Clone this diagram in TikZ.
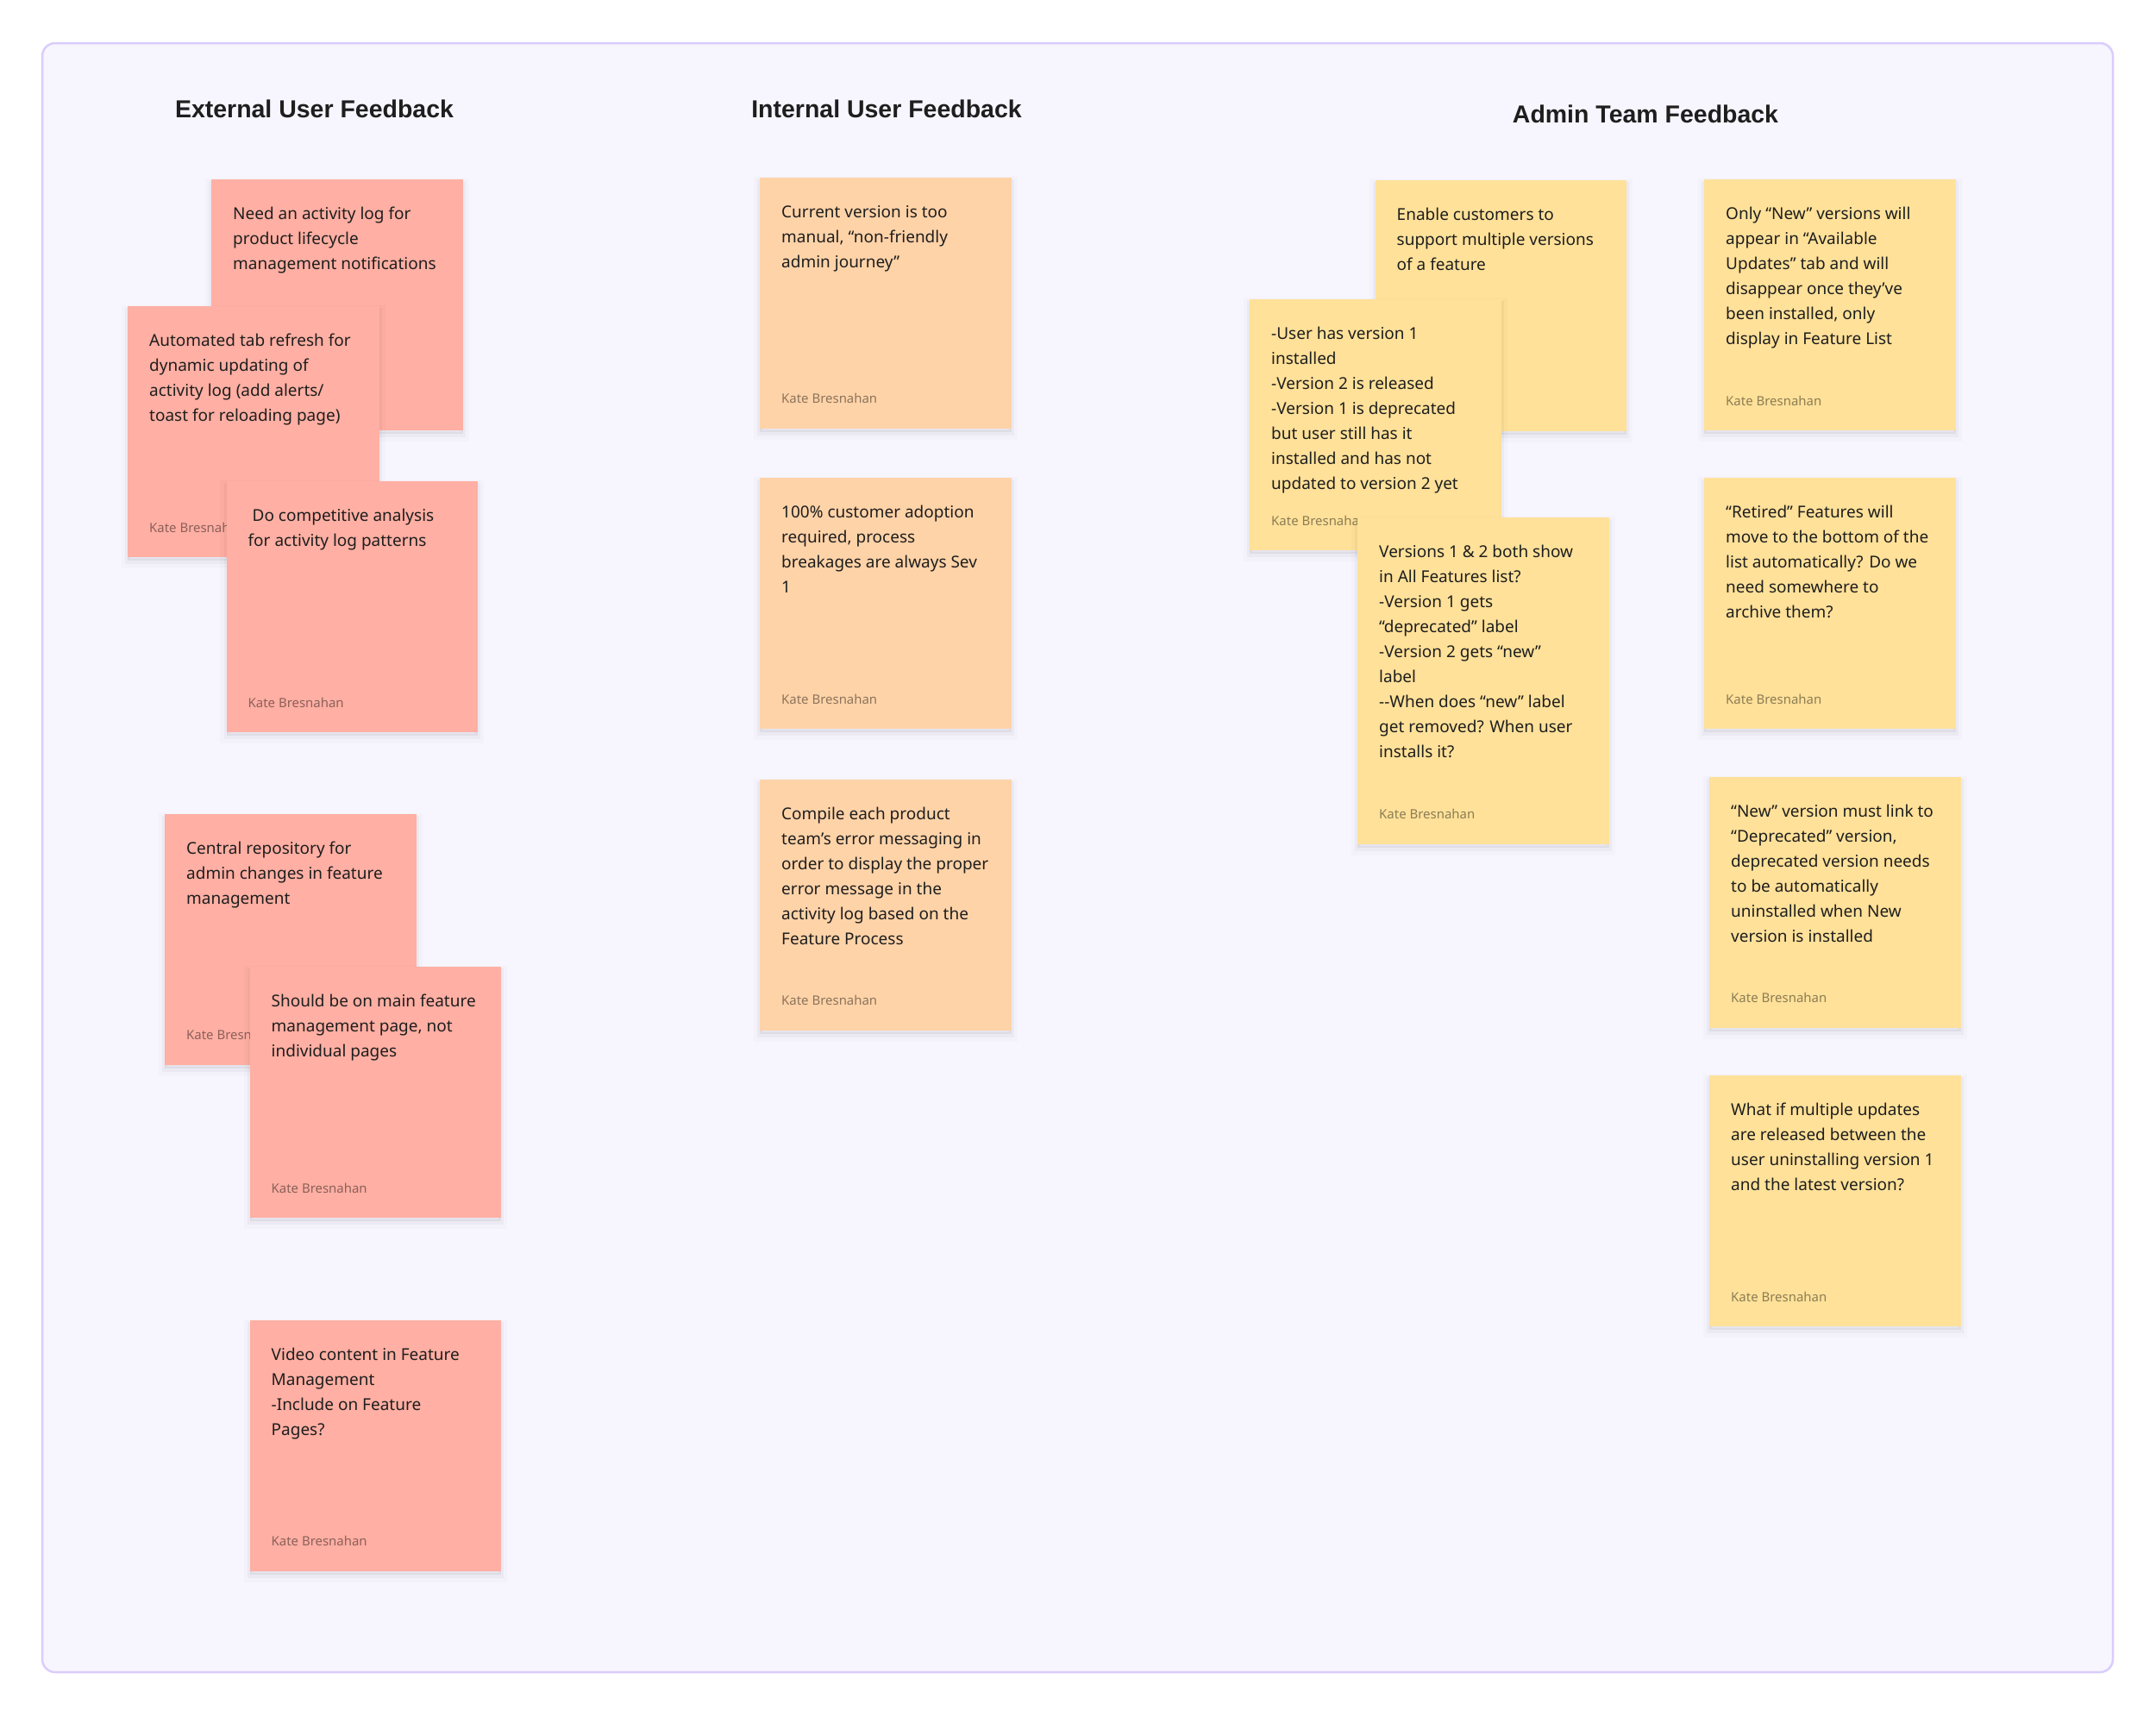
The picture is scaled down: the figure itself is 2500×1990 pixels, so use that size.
\documentclass[tikz,border=0pt]{standalone}
\usepackage{fontspec}
\setmainfont{Noto Sans}
\newfontfamily\headfam{Liberation Sans}
\usetikzlibrary{calc}
\definecolor{ink}{HTML}{1E1E1E}
\definecolor{boardfill}{HTML}{F7F5FE}
\definecolor{boardline}{HTML}{DACDFC}
\definecolor{nred}{HTML}{FFAFA3}
\definecolor{norange}{HTML}{FFD3A8}
\definecolor{nyellow}{HTML}{FFE199}
\newcommand\notefont{\fontsize{5.4pt}{8.25pt}\selectfont}
\newcommand\titlefont{\headfam\bfseries\fontsize{8.1pt}{9pt}\selectfont}
\newcommand\authorfont{\fontsize{4.25pt}{5pt}\selectfont}
\newcommand\notebody[1]{\parbox[t]{2.7cm}{\notefont\raggedright #1}}
\tikzset{
  x=0.01cm, y=-0.01cm,
  softshadow/.style={
    preaction={fill=black, fill opacity=0.05, transform canvas={yshift=-0.04cm}},
    preaction={draw=black, draw opacity=0.03, line width=0.06cm, transform canvas={yshift=-0.05cm}},
    preaction={draw=black, draw opacity=0.015, line width=0.14cm, transform canvas={yshift=-0.06cm}}},
  sticky/.style={rectangle, inner sep=0pt, outer sep=0pt, anchor=north west,
    minimum width=2.915cm, minimum height=2.91cm, fill=#1, softshadow},
  notetext/.style={anchor=base west, inner sep=0pt, text=ink},
  author/.style={anchor=base west, inner sep=0pt, text=#1!55!black, font=\authorfont},
  coltitle/.style={anchor=base, inner sep=0pt, text=ink, font=\titlefont},
}
\begin{document}
\begin{tikzpicture}
\useasboundingbox (0,0) rectangle (2500,1990);
\fill[white] (0,0) rectangle (2500,1990);
\draw[fill=boardfill, draw=boardline, line width=0.025cm, rounded corners=0.15cm] (49,50) rectangle (2450,1939);

% titles
\node[coltitle] (t1) at (364.5,136) {External User Feedback};
\node[coltitle] (t2) at (1028,136.5) {Internal User Feedback};
\node[coltitle] (t3) at (1908,142.5) {Admin Team Feedback};

% ---- External column
\node[sticky=nred] (e1) at (245,208) {};
\node[notetext] (e1t) at ($(e1.north west)+(24.5,46.5)$) {\notebody{Need an activity log for\\product lifecycle\\management notifications}};

\node[sticky=nred] (e2) at (148,355) {};
\node[notetext] (e2t) at ($(e2.north west)+(24.5,46.5)$) {\notebody{Automated tab refresh for\\dynamic updating of\\activity log (add alerts/\\toast for reloading page)}};
\node[author=nred] (e2a) at ($(e2.south west)+(24.5,-29)$) {Kate Bresnahan};

\node[sticky=nred] (e3) at (262.5,558) {};
\node[notetext] (e3t) at ($(e3.north west)+(24.5,46.5)$) {\notebody{\hspace*{0.05cm}Do competitive analysis\\for activity log patterns}};
\node[author=nred] (e3a) at ($(e3.south west)+(24.5,-29)$) {Kate Bresnahan};

\node[sticky=nred] (e4) at (191,943.5) {};
\node[notetext] (e4t) at ($(e4.north west)+(24.5,46.5)$) {\notebody{Central repository for\\admin changes in feature\\management}};
\node[author=nred] (e4a) at ($(e4.south west)+(24.5,-29)$) {Kate Bresnahan};

\node[sticky=nred] (e5) at (289.5,1121) {};
\node[notetext] (e5t) at ($(e5.north west)+(24.5,46.5)$) {\notebody{Should be on main feature\\management page, not\\individual pages}};
\node[author=nred] (e5a) at ($(e5.south west)+(24.5,-29)$) {Kate Bresnahan};

\node[sticky=nred] (e6) at (289.5,1530.5) {};
\node[notetext] (e6t) at ($(e6.north west)+(24.5,46.5)$) {\notebody{Video content in Feature\\Management\\-Include on Feature\\Pages?}};
\node[author=nred] (e6a) at ($(e6.south west)+(24.5,-29)$) {Kate Bresnahan};

% ---- Internal column
\node[sticky=norange] (i1) at (881,205.5) {};
\node[notetext] (i1t) at ($(i1.north west)+(24.5,46.5)$) {\notebody{Current version is too\\manual, “non-friendly\\admin journey”}};
\node[author=norange] (i1a) at ($(i1.south west)+(24.5,-29)$) {Kate Bresnahan};

\node[sticky=norange] (i2) at (881,554) {};
\node[notetext] (i2t) at ($(i2.north west)+(24.5,46.5)$) {\notebody{100\% customer adoption\\required, process\\breakages are always Sev\\1}};
\node[author=norange] (i2a) at ($(i2.south west)+(24.5,-29)$) {Kate Bresnahan};

\node[sticky=norange] (i3) at (881,903.5) {};
\node[notetext] (i3t) at ($(i3.north west)+(24.5,46.5)$) {\notebody{Compile each product\\team’s error messaging in\\order to display the proper\\error message in the\\activity log based on the\\Feature Process}};
\node[author=norange] (i3a) at ($(i3.south west)+(24.5,-29)$) {Kate Bresnahan};

% ---- Admin column
\node[sticky=nyellow] (a1) at (1594.5,208.5) {};
\node[notetext] (a1t) at ($(a1.north west)+(24.5,46.5)$) {\notebody{Enable customers to\\support multiple versions\\of a feature}};

\node[sticky=nyellow] (a2) at (1449,347) {};
\node[notetext] (a2t) at ($(a2.north west)+(24.5,46.5)$) {\notebody{-User has version 1\\installed\\-Version 2 is released\\-Version 1 is deprecated\\but user still has it\\installed and has not\\updated to version 2 yet}};
\node[author=nyellow] (a2a) at ($(a2.south west)+(24.5,-29)$) {Kate Bresnahan};

\node[sticky=nyellow, minimum height=3.79cm] (a3) at (1574,599.5) {};
\node[notetext] (a3t) at ($(a3.north west)+(24.5,46.5)$) {\notebody{Versions 1 \& 2 both show\\in All Features list?\\-Version 1 gets\\“deprecated” label\\-Version 2 gets “new”\\label\\-{}-When does “new” label\\get removed? When user\\installs it?}};
\node[author=nyellow] (a3a) at ($(a3.south west)+(24.5,-29)$) {Kate Bresnahan};

\node[sticky=nyellow] (a4) at (1976,208) {};
\node[notetext] (a4t) at ($(a4.north west)+(24.5,46.5)$) {\notebody{Only “New” versions will\\appear in “Available\\Updates” tab and will\\disappear once they’ve\\been installed, only\\display in Feature List}};
\node[author=nyellow] (a4a) at ($(a4.south west)+(24.5,-29)$) {Kate Bresnahan};

\node[sticky=nyellow] (a5) at (1976,554) {};
\node[notetext] (a5t) at ($(a5.north west)+(24.5,46.5)$) {\notebody{“Retired” Features will\\move to the bottom of the\\list automatically? Do we\\need somewhere to\\archive them?}};
\node[author=nyellow] (a5a) at ($(a5.south west)+(24.5,-29)$) {Kate Bresnahan};

\node[sticky=nyellow] (a6) at (1982,900.5) {};
\node[notetext] (a6t) at ($(a6.north west)+(24.5,46.5)$) {\notebody{“New” version must link to\\“Deprecated” version,\\deprecated version needs\\to be automatically\\uninstalled when New\\version is installed}};
\node[author=nyellow] (a6a) at ($(a6.south west)+(24.5,-29)$) {Kate Bresnahan};

\node[sticky=nyellow] (a7) at (1982,1247) {};
\node[notetext] (a7t) at ($(a7.north west)+(24.5,46.5)$) {\notebody{What if multiple updates\\are released between the\\user uninstalling version 1\\and the latest version?}};
\node[author=nyellow] (a7a) at ($(a7.south west)+(24.5,-29)$) {Kate Bresnahan};
\end{tikzpicture}
\end{document}
